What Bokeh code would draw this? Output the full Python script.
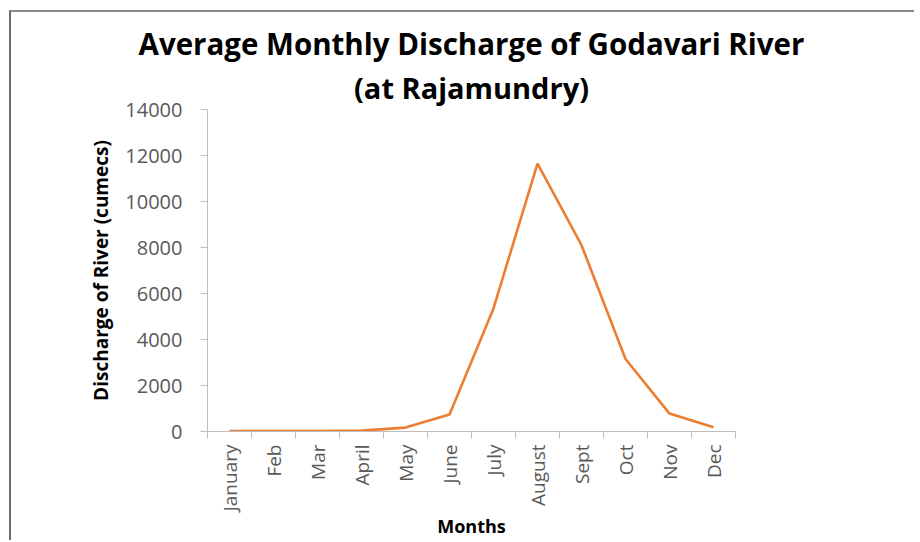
import math
from bokeh.plotting import figure
from bokeh.models import (LinearAxis, FixedTicker, Range1d, Title, ColumnDataSource)
from bokeh.embed import file_html
from bokeh.resources import INLINE

months = ["January", "Feb", "Mar", "April", "May", "June", "July",
          "August", "Sept", "Oct", "Nov", "Dec"]
discharge = [20, 20, 20, 40, 170, 740, 5350, 11650, 8100, 3150, 780, 180]
y_ticks = [0, 2000, 4000, 6000, 8000, 10000, 12000, 14000]
x_title = "Months"
y_title = "Discharge of River (cumecs)"
title_lines = ["Average Monthly Discharge of Godavari River", "(at Rajamundry)"]

FONT = "Open Sans"
GRAY_TXT = "#595959"
AXIS_COL = "#bfbfbf"

xpos = [i + 0.5 for i in range(len(months))]
src = ColumnDataSource(dict(x=xpos, y=discharge, m=months))

p = figure(width=905, height=530, output_backend="svg", toolbar_location=None,
           x_range=Range1d(0, len(months)), y_range=Range1d(0, 14000),
           x_axis_location=None, y_axis_location=None,
           min_border_left=196, min_border_right=181, min_border_top=97,
           min_border_bottom=111)
p.outline_line_color = None
p.xgrid.visible = False
p.ygrid.visible = False
p.background_fill_color = "white"
p.border_fill_color = "white"
p.styles = {"margin-left": "9px", "margin-top": "10px",
            "border-left": "2px solid #6a6a6a", "border-top": "2px solid #8a8a8a"}

p.line("x", "y", source=src, line_color="#ED7D31", line_width=2.6)

# y axis
ya = LinearAxis(ticker=FixedTicker(ticks=y_ticks))
ya.axis_line_color = AXIS_COL
ya.major_tick_line_color = AXIS_COL
ya.major_tick_out = 7
ya.major_tick_in = 0
ya.minor_tick_line_color = None
ya.major_label_text_font = FONT
ya.major_label_text_font_size = "20px"
ya.major_label_text_color = GRAY_TXT
ya.major_label_standoff = 18
ya.axis_label = y_title
ya.axis_label_text_font = FONT
ya.axis_label_text_font_size = "19px"
ya.axis_label_text_font_style = "bold"
ya.axis_label_text_color = "#000000"
ya.axis_label_standoff = 8
p.add_layout(ya, "left")

# x axis: tick marks at category boundaries
xt = LinearAxis(ticker=FixedTicker(ticks=list(range(len(months) + 1))))
xt.axis_line_color = AXIS_COL
xt.major_tick_line_color = AXIS_COL
xt.major_tick_out = 7
xt.major_tick_in = 0
xt.minor_tick_line_color = None
xt.major_label_overrides = {i: "" for i in range(len(months) + 1)}
xt.major_label_text_font_size = "1px"
xt.major_label_standoff = 0
p.add_layout(xt, "below")

# x axis: month labels at category centres, plus axis title
xl = LinearAxis(ticker=FixedTicker(ticks=xpos))
xl.axis_line_color = None
xl.major_tick_line_color = None
xl.minor_tick_line_color = None
xl.major_label_overrides = {x: m for x, m in zip(xpos, months)}
xl.major_label_orientation = math.pi / 2
xl.major_label_text_font = FONT
xl.major_label_text_font_size = "19px"
xl.major_label_text_color = GRAY_TXT
xl.major_label_standoff = 0
xl.axis_label = x_title
xl.axis_label_text_font = FONT
xl.axis_label_text_font_size = "18px"
xl.axis_label_text_font_style = "bold"
xl.axis_label_text_color = "#000000"
xl.axis_label_standoff = 0
p.add_layout(xl, "below")

t2 = Title(text=title_lines[1], align="center", text_font=FONT,
           text_font_size="29px", text_font_style="bold", text_color="#000000",
           standoff=5)
t1 = Title(text=title_lines[0], align="center", text_font=FONT,
           text_font_size="29.5px", text_font_style="bold", text_color="#000000",
           text_line_height=0.85, standoff=0)
p.add_layout(t2, "above")
p.add_layout(t1, "above")

open("out.html", "w").write(file_html(p, INLINE))
